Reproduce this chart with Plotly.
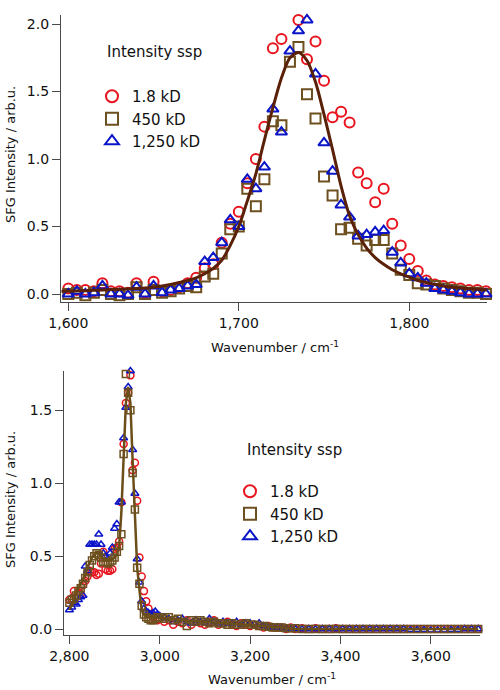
import plotly.graph_objects as go

# ---------------- Top panel (1600-1845 cm-1) ----------------
wn_top = [1600, 1605, 1610, 1615, 1620, 1625, 1630, 1635, 1640, 1645,
          1650, 1655, 1660, 1665, 1670, 1675, 1680, 1685, 1690, 1695,
          1700, 1705, 1710, 1715, 1720, 1725, 1730, 1735, 1740, 1745,
          1750, 1755, 1760, 1765, 1770, 1775, 1780, 1785, 1790, 1795,
          1800, 1805, 1810, 1815, 1820, 1825, 1830, 1835, 1840, 1845]

i18_top = [0.04, 0.03, 0.03, 0.02, 0.08, 0.02, 0.02, 0.01, 0.08, 0.01,
           0.09, 0.02, 0.03, 0.05, 0.08, 0.12, 0.19, 0.22, 0.38, 0.52,
           0.61, 0.82, 1.00, 1.24, 1.82, 1.89, 2.07, 2.03, 1.74, 1.87,
           1.58, 1.31, 1.35, 1.27, 0.90, 0.82, 0.68, 0.78, 0.52, 0.36,
           0.26, 0.17, 0.10, 0.07, 0.06, 0.05, 0.04, 0.03, 0.03, 0.02]

i450_top = [0.00, 0.01, -0.01, 0.01, 0.03, 0.00, -0.01, 0.00, 0.05, 0.00,
            0.03, 0.01, 0.02, 0.04, 0.06, 0.05, 0.13, 0.15, 0.30, 0.48,
            0.50, 0.78, 0.65, 0.85, 1.28, 1.25, 1.72, 1.83, 1.48, 1.30,
            0.87, 0.73, 0.48, 0.49, 0.41, 0.36, 0.40, 0.40, 0.30, 0.18,
            0.14, 0.08, 0.07, 0.06, 0.04, 0.03, 0.02, 0.01, 0.01, 0.00]

i1250_top = [0.00, 0.02, 0.00, 0.01, 0.06, 0.00, 0.00, -0.01, 0.05, 0.00,
             0.06, 0.01, 0.03, 0.04, 0.06, 0.07, 0.24, 0.27, 0.38, 0.55,
             0.50, 0.85, 0.78, 0.94, 1.37, 1.20, 1.80, 1.95, 2.03, 1.63,
             1.12, 0.91, 0.66, 0.57, 0.43, 0.44, 0.46, 0.47, 0.31, 0.23,
             0.15, 0.12, 0.08, 0.04, 0.03, 0.02, 0.01, 0.00, 0.00, 0.00]

fit_wn_top = [1596, 1600, 1610, 1620, 1630, 1640, 1650, 1660, 1670,
              1675, 1680, 1685, 1690, 1695, 1700, 1705, 1710, 1715, 1720,
              1725, 1730, 1735, 1740, 1745, 1750, 1755, 1760, 1765, 1770,
              1775, 1780, 1785, 1790, 1795, 1800, 1805, 1810,
              1820, 1830, 1840, 1846]
fit_top = [0.02, 0.02, 0.025, 0.03, 0.035, 0.04, 0.05, 0.07, 0.10,
           0.12, 0.15, 0.19, 0.25, 0.36, 0.50, 0.69, 0.89, 1.14, 1.38,
           1.60, 1.75, 1.79, 1.73, 1.57, 1.33, 1.07, 0.80, 0.58, 0.44,
           0.34, 0.27, 0.22, 0.18, 0.15, 0.125, 0.10, 0.085,
           0.06, 0.045, 0.035, 0.03]

# ---------------- Bottom panel (2800-3700 cm-1) ----------------
wn_bot = [2800, 2805, 2810, 2815, 2820, 2825, 2830, 2835, 2840, 2845,
          2850, 2855, 2860, 2865, 2870, 2875, 2880, 2885, 2890, 2895,
          2900, 2905, 2910, 2915, 2920, 2925, 2930, 2935, 2940, 2945,
          2950, 2955, 2960, 2965, 2970, 2975, 2980, 2985, 2990, 2995,
          3000,
          3010, 3020, 3030, 3040, 3050, 3060, 3070, 3080, 3090, 3100,
          3110, 3120, 3130, 3140, 3150, 3160, 3170, 3180, 3190, 3200,
          3210, 3220, 3230, 3240, 3250, 3260, 3270, 3280, 3290, 3300,
          3315, 3330, 3345, 3360, 3375, 3390, 3405, 3420, 3435,
          3450, 3465, 3480, 3495, 3510, 3525, 3540, 3555, 3570,
          3585, 3600, 3615, 3630, 3645, 3660, 3675, 3690, 3705]

i18_bot = [0.20, 0.21, 0.26, 0.22, 0.25, 0.24, 0.30, 0.33, 0.36, 0.40,
           0.39, 0.39, 0.37, 0.38, 0.45, 0.53, 0.41, 0.40, 0.40, 0.41,
           0.55, 0.56, 0.60, 0.87, 1.27, 1.55, 1.62, 1.74, 1.09, 1.14,
           0.88, 0.49, 0.36, 0.26, 0.19, 0.14, 0.10, 0.08, 0.07, 0.06,
           0.07,
           0.05, 0.06, 0.03, 0.05, 0.04, 0.06, 0.03, 0.05, 0.04, 0.03,
           0.05, 0.06, 0.03, 0.04, 0.05, 0.03, 0.02, 0.04, 0.03, 0.02,
           0.03, 0.02, 0.01, 0.02, 0.01, 0.01, 0.01, 0.00, 0.01, 0.00,
           0.005, 0.00, 0.005, 0.00, 0.00, 0.005, 0.00, 0.00, 0.00,
           0.00, 0.00, 0.00, 0.00, 0.00, 0.00, 0.00, 0.00, 0.00,
           0.00, 0.00, 0.00, 0.00, 0.00, 0.00, 0.00, 0.00, 0.00]

i450_bot = [0.18, 0.20, 0.21, 0.23, 0.26, 0.28, 0.31, 0.35, 0.39, 0.44,
            0.47, 0.50, 0.52, 0.51, 0.49, 0.46, 0.46, 0.45, 0.46, 0.47,
            0.49, 0.53, 0.57, 0.65, 1.20, 1.75, 1.62, 1.50, 1.07, 0.82,
            0.42, 0.31, 0.16, 0.10, 0.08, 0.07, 0.06, 0.06, 0.07, 0.08,
            0.08,
            0.07, 0.08, 0.06, 0.07, 0.05, 0.02, 0.06, 0.05, 0.06, 0.05,
            0.04, 0.05, 0.04, 0.04, 0.03, 0.04, 0.03, 0.03, 0.04, 0.03,
            0.03, 0.02, 0.02, 0.015, 0.01, 0.01, 0.01, 0.005, 0.005, 0.005,
            0.00, 0.00, 0.00, 0.00, 0.00, 0.00, 0.00, 0.00, 0.00,
            0.00, 0.00, 0.00, 0.00, 0.00, 0.00, 0.00, 0.00, 0.00,
            0.00, 0.00, 0.00, 0.00, 0.00, 0.00, 0.00, 0.00, 0.00]

i1250_bot = [0.13, 0.15, 0.18, 0.17, 0.20, 0.22, 0.23, 0.43, 0.40, 0.58,
             0.58, 0.58, 0.58, 0.65, 0.58, 0.52, 0.50, 0.48, 0.52, 0.56,
             0.69, 0.72, 0.87, 0.87, 1.31, 1.52, 1.66, 1.77, 1.23, 0.93,
             0.48, 0.32, 0.19, 0.14, 0.12, 0.11, 0.10, 0.11, 0.12, 0.10,
             0.09,
             0.08, 0.07, 0.05, 0.06, 0.07, 0.05, 0.04, 0.06, 0.05, 0.04,
             0.07, 0.05, 0.04, 0.05, 0.04, 0.04, 0.05, 0.03, 0.04, 0.04,
             0.03, 0.04, 0.02, 0.01, 0.01, 0.01, 0.005, 0.00, 0.00, 0.00,
             0.00, 0.00, 0.00, 0.00, 0.00, 0.00, 0.00, 0.00, 0.00,
             0.00, 0.00, 0.00, 0.00, 0.00, 0.00, 0.00, -0.005, -0.005,
             -0.005, -0.008, -0.008, -0.008, -0.005, -0.005, 0.00, 0.00, 0.00]

fit_bot = [0.13, 0.17, 0.21, 0.24, 0.28, 0.31, 0.34, 0.37, 0.42, 0.46,
           0.49, 0.51, 0.52, 0.52, 0.50, 0.48, 0.47, 0.47, 0.47, 0.48,
           0.49, 0.51, 0.56, 0.80, 1.20, 1.55, 1.66, 1.55, 1.15, 0.75,
           0.42, 0.27, 0.13, 0.10, 0.085, 0.08, 0.08, 0.078, 0.077, 0.076,
           0.075,
           0.075, 0.07, 0.066, 0.062, 0.06, 0.058, 0.056, 0.054, 0.052, 0.05,
           0.048, 0.046, 0.044, 0.042, 0.04, 0.038, 0.036, 0.034, 0.032, 0.03,
           0.027, 0.024, 0.02, 0.017, 0.014, 0.011, 0.008, 0.006, 0.004, 0.002,
           0.00, 0.00, 0.00, 0.00, 0.00, 0.00, 0.00, 0.00, 0.00,
           0.00, 0.00, 0.00, 0.00, 0.00, 0.00, 0.00, 0.00, 0.00,
           0.00, 0.00, 0.00, 0.00, 0.00, 0.00, 0.00, 0.00, 0.00]

series_names = ["1.8 kD", "450 kD", "1,250 kD"]
legend_title = "Intensity ssp"
y_title = "SFG Intensity / arb.u."
x_title = "Wavenumber / cm<sup>-1</sup>"

RED = "#e8141e"
OLIVE = "#6e5020"
BLUE = "#0a14c8"
FIT_TOP = "#5a2008"
FIT_BOT = "#6b4e18"
FONT = "DejaVu Sans"
W, H = 500, 690

fig = go.Figure()

# top panel
fig.add_trace(go.Scatter(x=wn_top, y=i18_top, mode="markers", name=series_names[0], cliponaxis=False,
                         marker=dict(symbol="circle-open", size=10, color=RED, line=dict(width=2)),
                         xaxis="x", yaxis="y", legend="legend", legendrank=1))
fig.add_trace(go.Scatter(x=wn_top, y=i450_top, mode="markers", name=series_names[1], cliponaxis=False,
                         marker=dict(symbol="square-open", size=10, color=OLIVE, line=dict(width=2)),
                         xaxis="x", yaxis="y", legend="legend", legendrank=2))
fig.add_trace(go.Scatter(x=wn_top, y=i1250_top, mode="markers", name=series_names[2], cliponaxis=False,
                         marker=dict(symbol="triangle-up-open", size=10, color=BLUE, line=dict(width=2)),
                         xaxis="x", yaxis="y", legend="legend", legendrank=3))
fig.add_trace(go.Scatter(x=fit_wn_top, y=fit_top, mode="lines", showlegend=False,
                         line=dict(color=FIT_TOP, width=3, shape="spline", smoothing=0.8),
                         xaxis="x", yaxis="y"))

# bottom panel
fig.add_trace(go.Scatter(x=wn_bot, y=i18_bot, mode="markers", name=series_names[0], cliponaxis=False,
                         marker=dict(symbol="circle-open", size=7, color=RED, line=dict(width=1.5)),
                         xaxis="x2", yaxis="y2", legend="legend2", legendrank=1))
fig.add_trace(go.Scatter(x=wn_bot, y=i1250_bot, mode="markers", name=series_names[2], cliponaxis=False,
                         marker=dict(symbol="triangle-up-open", size=7, color=BLUE, line=dict(width=1.5)),
                         xaxis="x2", yaxis="y2", legend="legend2", legendrank=3))
fig.add_trace(go.Scatter(x=wn_bot, y=i450_bot, mode="markers", name=series_names[1], cliponaxis=False,
                         marker=dict(symbol="square-open", size=7, color=OLIVE, line=dict(width=1.5)),
                         xaxis="x2", yaxis="y2", legend="legend2", legendrank=2))
fig.add_trace(go.Scatter(x=wn_bot, y=fit_bot, mode="lines", showlegend=False,
                         line=dict(color=FIT_BOT, width=2.5),
                         xaxis="x2", yaxis="y2"))

axis_common = dict(showline=True, linecolor="#4a4a4a", linewidth=1.2, ticks="outside",
                   ticklen=8, tickwidth=1, tickcolor="#4a4a4a", showgrid=False, zeroline=False,
                   automargin=False,
                   tickfont=dict(family=FONT, size=14, color="#111"))

def px_x(p):
    return p / W

def px_y(p):
    return 1 - p / H

fig.update_layout(
    width=W, height=H, autosize=False,
    margin=dict(l=0, r=0, t=0, b=0, pad=0),
    paper_bgcolor="white", plot_bgcolor="white",
    font=dict(family=FONT, size=14, color="#111"),
    xaxis=dict(domain=[px_x(61), px_x(487)], range=[1595.7, 1845.6], anchor="y",
               tickvals=[1600, 1700, 1800], tickformat=",", **axis_common),
    yaxis=dict(domain=[px_y(301.7), px_y(15)], range=[-0.057, 2.067], anchor="x",
               dtick=0.5, tick0=0, tickformat=".1f", **axis_common),
    xaxis2=dict(domain=[px_x(64), px_x(480)], range=[2788, 3709], anchor="y2",
                tickvals=[2800, 3000, 3200, 3400, 3600], tickformat=",", **axis_common),
    yaxis2=dict(domain=[px_y(635), px_y(371)], range=[-0.041, 1.77], anchor="x2",
                dtick=0.5, tick0=0, tickformat=".1f", **axis_common),
    legend=dict(x=px_x(92), y=px_y(80), xanchor="left", yanchor="top",
                bgcolor="rgba(0,0,0,0)", itemsizing="constant", traceorder="normal",
                font=dict(family=FONT, size=15, color="#111")),
    legend2=dict(x=px_x(230), y=px_y(475), xanchor="left", yanchor="top",
                 bgcolor="rgba(0,0,0,0)", itemsizing="constant", traceorder="normal",
                 font=dict(family=FONT, size=15, color="#111")),
)

ann_font = dict(family=FONT, size=15, color="#111")
title_font = dict(family=FONT, size=13, color="#111")
fig.add_annotation(text=legend_title, x=px_x(105), y=px_y(52), xref="paper", yref="paper",
                   xanchor="left", yanchor="middle", showarrow=False, font=ann_font)
fig.add_annotation(text=legend_title, x=px_x(245), y=px_y(450), xref="paper", yref="paper",
                   xanchor="left", yanchor="middle", showarrow=False, font=ann_font)
fig.add_annotation(text=y_title, x=px_x(10), y=px_y(155), xref="paper", yref="paper",
                   xanchor="center", yanchor="middle", textangle=-90, showarrow=False, font=title_font)
fig.add_annotation(text=y_title, x=px_x(10), y=px_y(500), xref="paper", yref="paper",
                   xanchor="center", yanchor="middle", textangle=-90, showarrow=False, font=title_font)
fig.add_annotation(text=x_title, x=px_x(275), y=px_y(347), xref="paper", yref="paper",
                   xanchor="center", yanchor="middle", showarrow=False, font=title_font)
fig.add_annotation(text=x_title, x=px_x(272), y=px_y(679), xref="paper", yref="paper",
                   xanchor="center", yanchor="middle", showarrow=False, font=title_font)

fig.write_html(
    "out.html",
    config={"displayModeBar": False},
    post_script="document.documentElement.style.overflow='hidden';"
                "document.body.style.margin='0';document.body.style.overflow='hidden';",
)
